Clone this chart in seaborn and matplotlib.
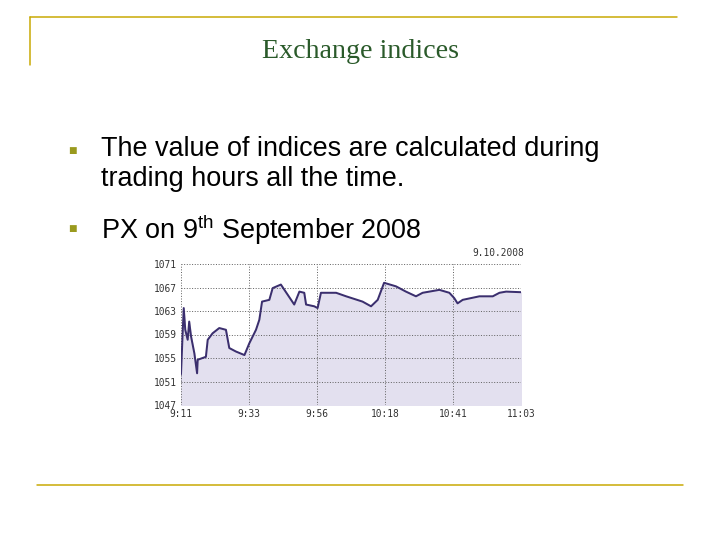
import matplotlib
matplotlib.use("Agg")
import matplotlib.pyplot as plt
import seaborn as sns
import pandas as pd
from matplotlib.lines import Line2D

minutes = [0,0,0.5,0.9,1.4,2.2,2.7,3.3,4.4,5.3,5.5,8.2,8.8,10.4,12.6,14.8,15.9,18.1,20.9,22.5,24.7,25.8,26.7,29.1,30.2,32.9,35.1,37.3,39.0,40.6,41.2,43.9,45.0,46.1,51.1,54.4,59.8,62.6,64.8,66.9,70.8,74.1,77.4,79.6,85.1,88.4,90.0,91.1,92.8,98.3,102.7,104.9,107.1,112]
values = [1050.7,1053.8,1058.7,1063.5,1059.8,1058.1,1061.2,1058.7,1055.8,1052.4,1054.7,1055.2,1058.1,1059.2,1060.1,1059.8,1056.7,1056.1,1055.5,1057.5,1059.8,1061.5,1064.6,1064.9,1066.9,1067.5,1065.8,1064.1,1066.3,1066.1,1064.1,1063.8,1063.5,1066.1,1066.1,1065.5,1064.6,1063.8,1064.9,1067.8,1067.2,1066.3,1065.5,1066.1,1066.6,1066.1,1065.2,1064.3,1064.9,1065.5,1065.5,1066.1,1066.3,1066.2]
x_ticks = [0, 22.4, 44.8, 67.2, 89.6, 112]
x_labels = ["9:11", "9:33", "9:56", "10:18", "10:41", "11:03"]
y_ticks = [1047, 1051, 1055, 1059, 1063, 1067, 1071]
bullets = ["The value of indices are calculated during\ntrading hours all the time.", "PX on 9$^{\\mathregular{th}}$ September 2008"]

sns.set_style("white")
fig = plt.figure(figsize=(10, 7.5), dpi=72)
gold = "#c8a800"
fig.add_artist(Line2D([30/720, 677/720], [1-17/540, 1-17/540], color=gold, lw=1.5))
fig.add_artist(Line2D([30/720, 30/720], [1-17/540, 1-65/540], color=gold, lw=1.5))
fig.add_artist(Line2D([37/720, 683/720], [1-485/540, 1-485/540], color=gold, lw=1.5))
fig.text(0.5, 1-52/540, "Exchange indices", ha="center", va="center", fontsize=28,
         family="Liberation Serif", color="#2a5a2a")
for t, yy, top in zip(bullets, [150, 229], [136, 213]):
    fig.text(68/720, 1-yy/540, "\u25a0", fontsize=9, color="#9a9a1e", va="center", family="DejaVu Sans")
    fig.text(101/720, 1-top/540, t, fontsize=27, family="Liberation Sans", va="top",
             linespacing=1.2, color="black")

ax = fig.add_axes([181/720, 1-405/540, 340/720, 141/540])
df = pd.DataFrame({"m": minutes, "v": values})
ax.fill_between(df["m"], df["v"], 1047, color="#e3e0ef", zorder=1)
sns.lineplot(data=df, x="m", y="v", ax=ax, color="#3b2f6e", lw=2, zorder=3)
ax.set_xlim(0, 112); ax.set_ylim(1047, 1071)
ax.set_xticks(x_ticks); ax.set_xticklabels(x_labels)
ax.set_yticks(y_ticks)
ax.set_xlabel(""); ax.set_ylabel("")
ax.set_axisbelow(False)
ax.grid(True, ls=":", color="#666666", lw=1, zorder=2)
for s in ax.spines.values():
    s.set_visible(False)
ax.tick_params(length=0, labelsize=9.5, labelcolor="#333333", pad=4)
for l in ax.get_xticklabels() + ax.get_yticklabels():
    l.set_family("DejaVu Sans Mono")
ax.text(1.01, 1.04, "9.10.2008", transform=ax.transAxes, ha="right", va="bottom",
        fontsize=9.5, family="DejaVu Sans Mono", color="#333333")
fig.savefig("out.png", dpi=72)
